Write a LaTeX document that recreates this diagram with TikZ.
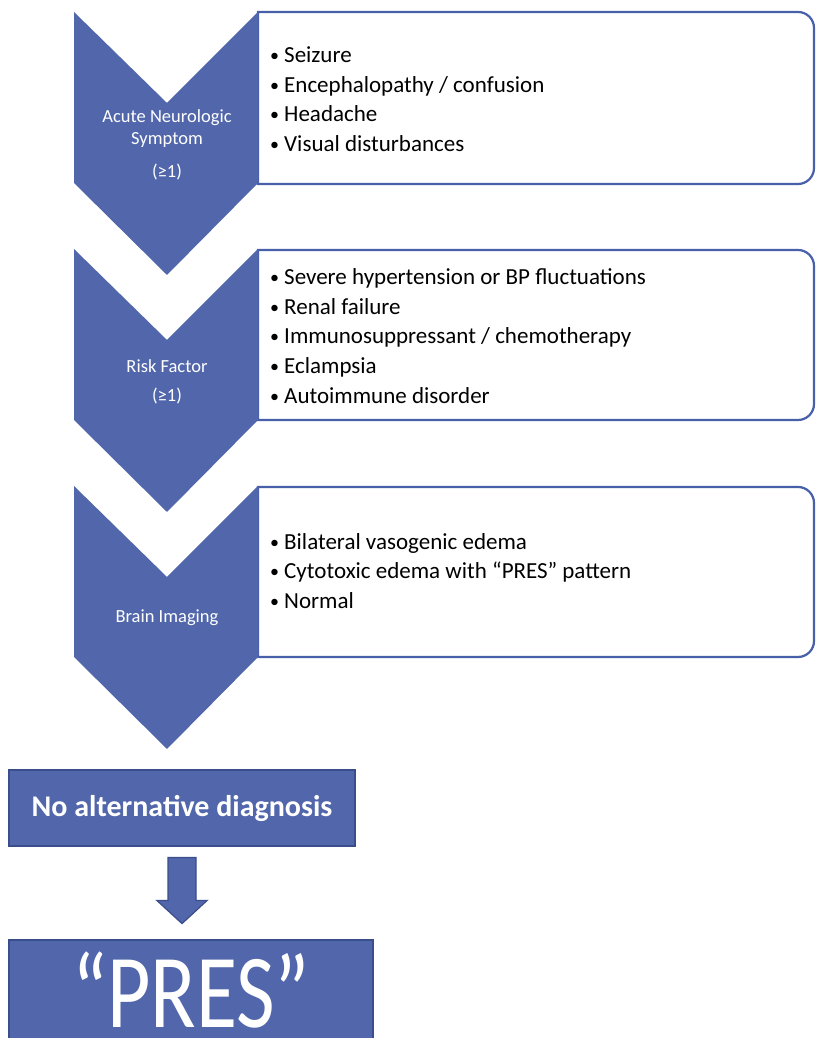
\documentclass[tikz,border=0pt]{standalone}
\usepackage{fontspec}
\usetikzlibrary{calc}
\setmainfont{Carlito}
\definecolor{pblue}{RGB}{82,103,171}
\definecolor{pline}{RGB}{72,96,170}
\definecolor{pdark}{RGB}{58,78,140}
\newcommand{\bul}{\makebox[14pt][l]{\raisebox{1pt}{\fontsize{18}{18}\selectfont•}}}
\begin{document}
\begin{tikzpicture}[x=1pt,y=1pt,
  chev/.style={fill=pblue,draw=none},
  listbox/.style={draw=pline,line width=2.2pt,fill=white},
  chevtext/.style={text=white,font=\fontsize{18.5}{22}\selectfont,align=center,inner sep=0pt},
  listtext/.style={font=\fontsize{23}{29.6}\selectfont,align=left,anchor=west,inner sep=0pt},
  bluebox/.style={fill=pblue,draw=pdark,line width=1.2pt}]
\useasboundingbox (0,0) rectangle (816,1038);
% list boxes
\path[listbox] (258,1026) -- (798,1026) arc[start angle=90,end angle=0,radius=16] -- (814,870) arc[start angle=0,end angle=-90,radius=16] -- (258,854) -- cycle;
\path[listbox] (258,788) -- (798,788) arc[start angle=90,end angle=0,radius=16] -- (814,634) arc[start angle=0,end angle=-90,radius=16] -- (258,618) -- cycle;
\path[listbox] (258,551) -- (798,551) arc[start angle=90,end angle=0,radius=16] -- (814,397) arc[start angle=0,end angle=-90,radius=16] -- (258,381) -- cycle;
% chevrons
\path[chev] (74,1026) -- (167,935) -- (258,1026) -- (258,855) -- (167,763) -- (74,855) -- cycle;
\path[chev] (74,789) -- (167,698) -- (258,789) -- (258,618) -- (167,526) -- (74,618) -- cycle;
\path[chev] (74,552) -- (167,461) -- (258,552) -- (258,381) -- (167,289) -- (74,381) -- cycle;
% chevron labels
\node[chevtext] (c1) at (167,909) {Acute Neurologic\\Symptom};
\node[chevtext] (c1b) at (167,866) {(≥1)};
\node[chevtext] (c2) at (167,672) {Risk Factor};
\node[chevtext] (c2b) at (167,642) {(≥1)};
\node[chevtext] (c3) at (167,420) {Brain Imaging};
% lists
\node[listtext] (l1) at (270,939) {\bul Seizure\\\bul Encephalopathy / confusion\\\bul Headache\\\bul Visual disturbances};
\node[listtext] (l2) at (270,702) {\bul Severe hypertension or BP fluctuations\\\bul Renal failure\\\bul Immunosuppressant / chemotherapy\\\bul Eclampsia\\\bul Autoimmune disorder};
\node[listtext] (l3) at (270,467) {\bul Bilateral vasogenic edema\\\bul Cytotoxic edema with “PRES” pattern\\\bul Normal};
% bottom boxes
\node[bluebox,minimum width=346pt,minimum height=76pt,text=white,font=\fontsize{30}{34}\bfseries\selectfont,inner sep=0pt] (noalt) at (182,230) {No alternative diagnosis};
\path[bluebox] (9,98) rectangle (373,-3);
\node[text=white,font=\fontsize{105}{105}\selectfont,inner sep=0pt,xscale=0.8,anchor=base] (pres) at (191,10) {“PRES”};
% block arrow
\path[bluebox,line join=miter] ($(noalt.south)+(-14,-11)$) coordinate (a0) -- ++(28,0) -- ++(0,-43) -- ++(11,0) -- ++(-25,-23) -- ++(-25,23) -- ++(11,0) -- cycle;
\end{tikzpicture}
\end{document}
